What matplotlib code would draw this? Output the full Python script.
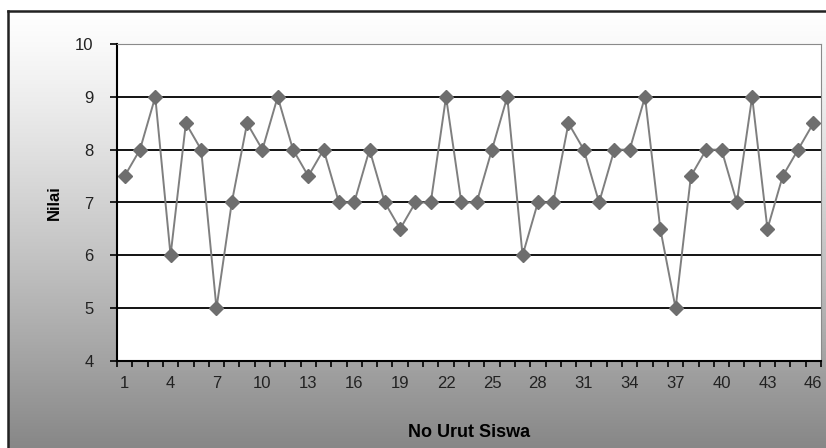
import numpy as np
import matplotlib
matplotlib.use("Agg")
import matplotlib.pyplot as plt

plt.rcParams['font.family'] = ['Liberation Sans', 'DejaVu Sans']

# data
siswa = list(range(1, 47))
nilai = [7.5, 8, 9, 6, 8.5, 8, 5, 7, 8.5, 8,
         9, 8, 7.5, 8, 7, 7, 8, 7, 6.5, 7,
         7, 9, 7, 7, 8, 9, 6, 7, 7, 8.5,
         8, 7, 8, 8, 9, 6.5, 5, 7.5, 8, 8,
         7, 9, 6.5, 7.5, 8, 8.5]
y_ticks = [4, 5, 6, 7, 8, 9, 10]
x_ticks = list(range(1, 47, 3))

W, H = 826, 448
fig = plt.figure(figsize=(W / 100, H / 100), dpi=100)

# chart area background: white at top fading to grey at the bottom
bg = fig.add_axes([8 / W, 0, 1 - 8 / W, 1 - 11 / H])
grad = np.linspace(0, 1, 256) ** 1.2
col = 1.0 - 0.47 * grad
img = np.dstack([col, col, col]).reshape(256, 1, 3)
bg.imshow(img, aspect='auto', extent=[0, 1, 0, 1], origin='upper')
bg.set_xticks([])
bg.set_yticks([])
for side in ['top', 'left']:
    bg.spines[side].set_linewidth(1.8)
    bg.spines[side].set_color('#222222')
bg.spines['right'].set_visible(False)
bg.spines['bottom'].set_visible(False)

# plot area
x0, x1 = 117, 821
y0, y1 = 44, 361
ax = fig.add_axes([x0 / W, 1 - y1 / H, (x1 - x0) / W, (y1 - y0) / H])
ax.set_facecolor('white')

for v in y_ticks[1:-1]:
    ax.axhline(v, color='black', lw=1.3, zorder=1)

ax.plot(siswa, nilai, color='#7f7f7f', lw=1.4, marker='D', markersize=7,
        markerfacecolor='#6e6e6e', markeredgecolor='#6e6e6e', zorder=3)

ax.set_xlim(0.5, 46.5)
ax.set_ylim(4, 10)
ax.set_yticks(y_ticks)
ax.set_xticks(x_ticks)
ax.set_xticks(np.arange(0.5, 47, 1), minor=True)
ax.tick_params(axis='x', which='major', length=0, pad=11, labelsize=12,
               labelcolor='#222222')
ax.tick_params(axis='x', which='minor', length=4, width=1.2, direction='out')
ax.tick_params(axis='y', length=5, width=1.2, direction='out', pad=12,
               labelsize=12, labelcolor='#222222')

ax.spines['left'].set_linewidth(1.5)
ax.spines['bottom'].set_linewidth(1.5)
ax.spines['top'].set_color('#8a8a8a')
ax.spines['right'].set_color('#8a8a8a')

ax.set_ylabel('Nilai', fontsize=12, fontweight='bold')
ax.set_xlabel('No Urut Siswa', fontsize=13, fontweight='bold')
ax.yaxis.set_label_coords(-0.078, 0.5)
ax.xaxis.set_label_coords(0.5, -0.2)

fig.savefig('out.png', dpi=100)
